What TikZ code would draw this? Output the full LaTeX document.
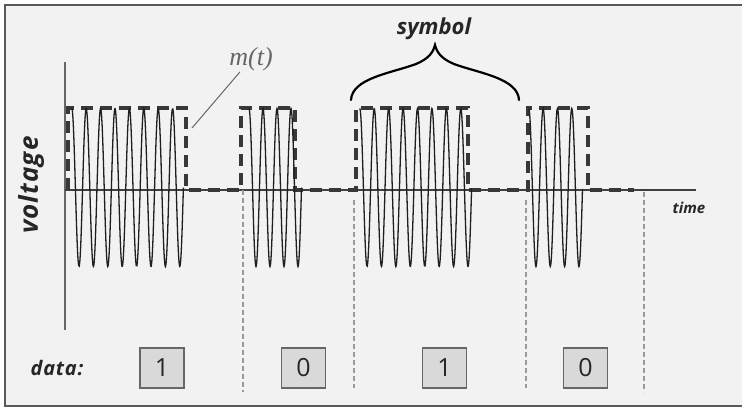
\documentclass[tikz,border=0pt]{standalone}
\usepackage{fontspec}
\setmainfont{Open Sans}
\newfontfamily\serifit{Liberation Serif}
\newfontfamily\widesans[LetterSpace=4]{Open Sans}
\begin{document}
\begin{tikzpicture}[x=1pt,y=-1pt,
  frame/.style={draw=black!65, line width=2pt, fill=black!5},
  axisline/.style={draw=black!75, line width=1.6pt},
  vaxis/.style={draw=black!60, line width=2pt},
  carrier/.style={draw=black!88, line width=1.3pt},
  envelope/.style={draw=black!78, line width=3.4pt, dash pattern=on 12pt off 7pt},
  divider/.style={draw=black!40, line width=1.3pt, dash pattern=on 5pt off 3pt},
  databox/.style={draw=black!60, fill=black!15, line width=1.3pt, minimum width=44pt, minimum height=40pt, inner sep=0pt, font=\fontsize{25}{25}\selectfont, text=black!85},
  lbl/.style={text=black!85, inner sep=0pt},
  bracestyle/.style={draw=black, line width=2.2pt, line cap=round},
  leader/.style={draw=black!60, line width=1pt}
]
\useasboundingbox (0,0) rectangle (742,409);
\fill[white] (0,0) rectangle (742,409);
\clip (0,0) rectangle (742,409);
\draw[frame] (5,5) rectangle (748,406);

% axes
\coordinate (vtop) at (65,62);
\coordinate (vbot) at (65,330);
\coordinate (hl) at (65,190);
\coordinate (hr) at (696,190);
\draw[vaxis] (vtop) -- (vbot);
\draw[axisline] (hl) -- (hr);

% dividers
\coordinate (d1t) at (243,190); \coordinate (d1b) at (243,392);
\coordinate (d2t) at (354,200); \coordinate (d2b) at (354,388);
\coordinate (d3t) at (526,200); \coordinate (d3b) at (526,388);
\coordinate (d4t) at (644,192); \coordinate (d4b) at (644,392);
\draw[divider] (d1t) -- (d1b);
\draw[divider] (d2t) -- (d2b);
\draw[divider] (d3t) -- (d3b);
\draw[divider] (d4t) -- (d4b);

% envelope m(t)
\draw[envelope] (68,190) -- (68,108) -- (186,108) -- (186,190) -- (241,190) -- (241,108) -- (295,108) -- (295,190)
  -- (356,190) -- (356,108) -- (468,108) -- (468,190) -- (528,190) -- (528,108) -- (588,108) -- (588,190) -- (634,190);

% carrier bursts
\draw[carrier] plot[domain=71.8:183.4, samples=181, smooth] (\x, {187.5-79*cos((\x-71.8)/14.4*360)});
\draw[carrier] plot[domain=249:301.5, samples=91, smooth] (\x, {187.5-79*cos((\x-249)/14*360)});
\draw[carrier] plot[domain=359.8:471.6, samples=181, smooth] (\x, {187.5-79*cos((\x-359.8)/14.43*360)});
\draw[carrier] plot[domain=528.8:582.5, samples=91, smooth] (\x, {187.5-79*cos((\x-528.8)/14.33*360)});

% brace
\draw[bracestyle] (351,100) .. controls (352,78) and (392,73) .. (416,64)
  .. controls (428,59) and (433,53) .. (435,45)
  .. controls (437,53) and (442,59) .. (454,64)
  .. controls (478,73) and (518,78) .. (519,100);

% labels
\node[lbl, font=\fontsize{22}{22}\bfseries\itshape] (sym) at (434,29) {symbol};
\node[inner sep=1pt, text=black!60, font=\fontsize{26}{26}\serifit\itshape] (mlab) at (251,59) {m(t)};
\coordinate (mtip) at (192,128);
\draw[leader] (mlab) -- (mtip);
\node[lbl, rotate=90, font=\fontsize{26}{26}\widesans\bfseries\itshape] (vlab) at (31,185) {voltage};
\node[lbl, font=\fontsize{15}{15}\bfseries\itshape] (tlab) at (689,208) {time};
\node[lbl, font=\fontsize{20}{20}\widesans\bfseries\itshape] (dlab) at (57,368) {data:};

% data boxes
\node[databox] (b1) at (162,368) {1};
\node[databox] (b2) at (303.5,368) {0};
\node[databox] (b3) at (444.5,368) {1};
\node[databox] (b4) at (585.5,368) {0};
\end{tikzpicture}
\end{document}
